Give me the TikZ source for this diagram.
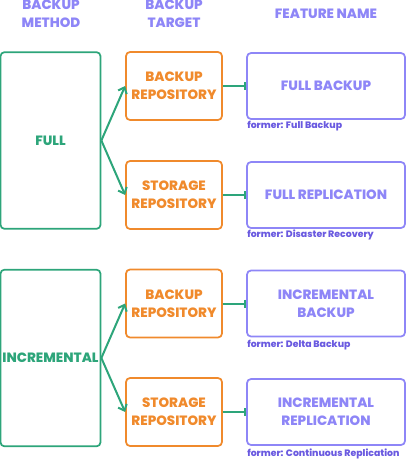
\documentclass[tikz,border=0pt]{standalone}
\usepackage{fontspec}
\setmainfont{Poppins}[BoldFont={Poppins ExtraBold}]
\usetikzlibrary{arrows.meta, positioning}
\definecolor{methodGreen}{HTML}{2DA57A}
\definecolor{targetOrange}{HTML}{F08A2C}
\definecolor{featurePurple}{HTML}{8E86F7}
\definecolor{formerPurple}{HTML}{6A5AE0}
\tikzstyle{stdText} = [align=center, inner sep=0pt, font=\bfseries\fontsize{10.1}{13.5}\selectfont]
\tikzstyle{box} = [stdText, draw, rounded corners=3pt, line width=1.3pt]
\tikzstyle{method} = [box, draw=methodGreen, text=methodGreen, minimum width=75pt, minimum height=132.5pt]
\tikzstyle{target} = [box, draw=targetOrange, text=targetOrange, minimum width=72pt, minimum height=51pt]
\tikzstyle{feature} = [box, draw=featurePurple, text=featurePurple, minimum width=118.5pt, minimum height=49.5pt]
\tikzstyle{heading} = [stdText, text=featurePurple]
\tikzstyle{former} = [anchor=west, inner sep=0pt, text=formerPurple, font=\bfseries\fontsize{7}{8}\selectfont]
\tikzstyle{fork} = [-{Straight Barb[length=4pt, width=7pt]}, methodGreen, line width=1.5pt]
\tikzstyle{link} = [-{Bar[width=6pt]}, methodGreen, line width=1.5pt]

\begin{document}
\begin{tikzpicture}[x=0.75pt, y=-0.75pt]
    \useasboundingbox (0,0) rectangle (407,461);

    % column headings
    \node (hMethod) [heading] at (51,14) {BACKUP \\ METHOD};
    \node (hTarget) [heading] at (174,14) {BACKUP \\ TARGET};
    \node (hFeature) [heading] at (326,14) {FEATURE NAME};

    % backup methods
    \node (m1) [method] at (50.5,140.5) {FULL};
    \node (m2) [method] at (50.5,358) {INCREMENTAL};

    % backup targets
    \node (t1) [target] at (174,86) {BACKUP \\ REPOSITORY};
    \node (t2) [target] at (174,195) {STORAGE \\ REPOSITORY};
    \node (t3) [target] at (174,303.5) {BACKUP \\ REPOSITORY};
    \node (t4) [target] at (174,412) {STORAGE \\ REPOSITORY};

    % feature names
    \node (f1) [feature] at (326,86) {FULL BACKUP};
    \node (f2) [feature] at (326,195) {FULL REPLICATION};
    \node (f3) [feature] at (326,303.5) {INCREMENTAL \\ BACKUP};
    \node (f4) [feature] at (326,412) {INCREMENTAL \\ REPLICATION};

    % former names
    \node (o1) [former] at (247,126) {former: Full Backup};
    \node (o2) [former] at (247,235) {former: Disaster Recovery};
    \node (o3) [former] at (247,345) {former: Delta Backup};
    \node (o4) [former] at (247,454) {former: Continuous Replication};

    \draw [fork] (m1.east) -- (t1.west);
    \draw [fork] (m1.east) -- (t2.west);
    \draw [fork] (m2.east) -- (t3.west);
    \draw [fork] (m2.east) -- (t4.west);

    \foreach \x in {1,...,4}{
        \draw [link] (t\x) -- (f\x);
    }
\end{tikzpicture}
\end{document}
